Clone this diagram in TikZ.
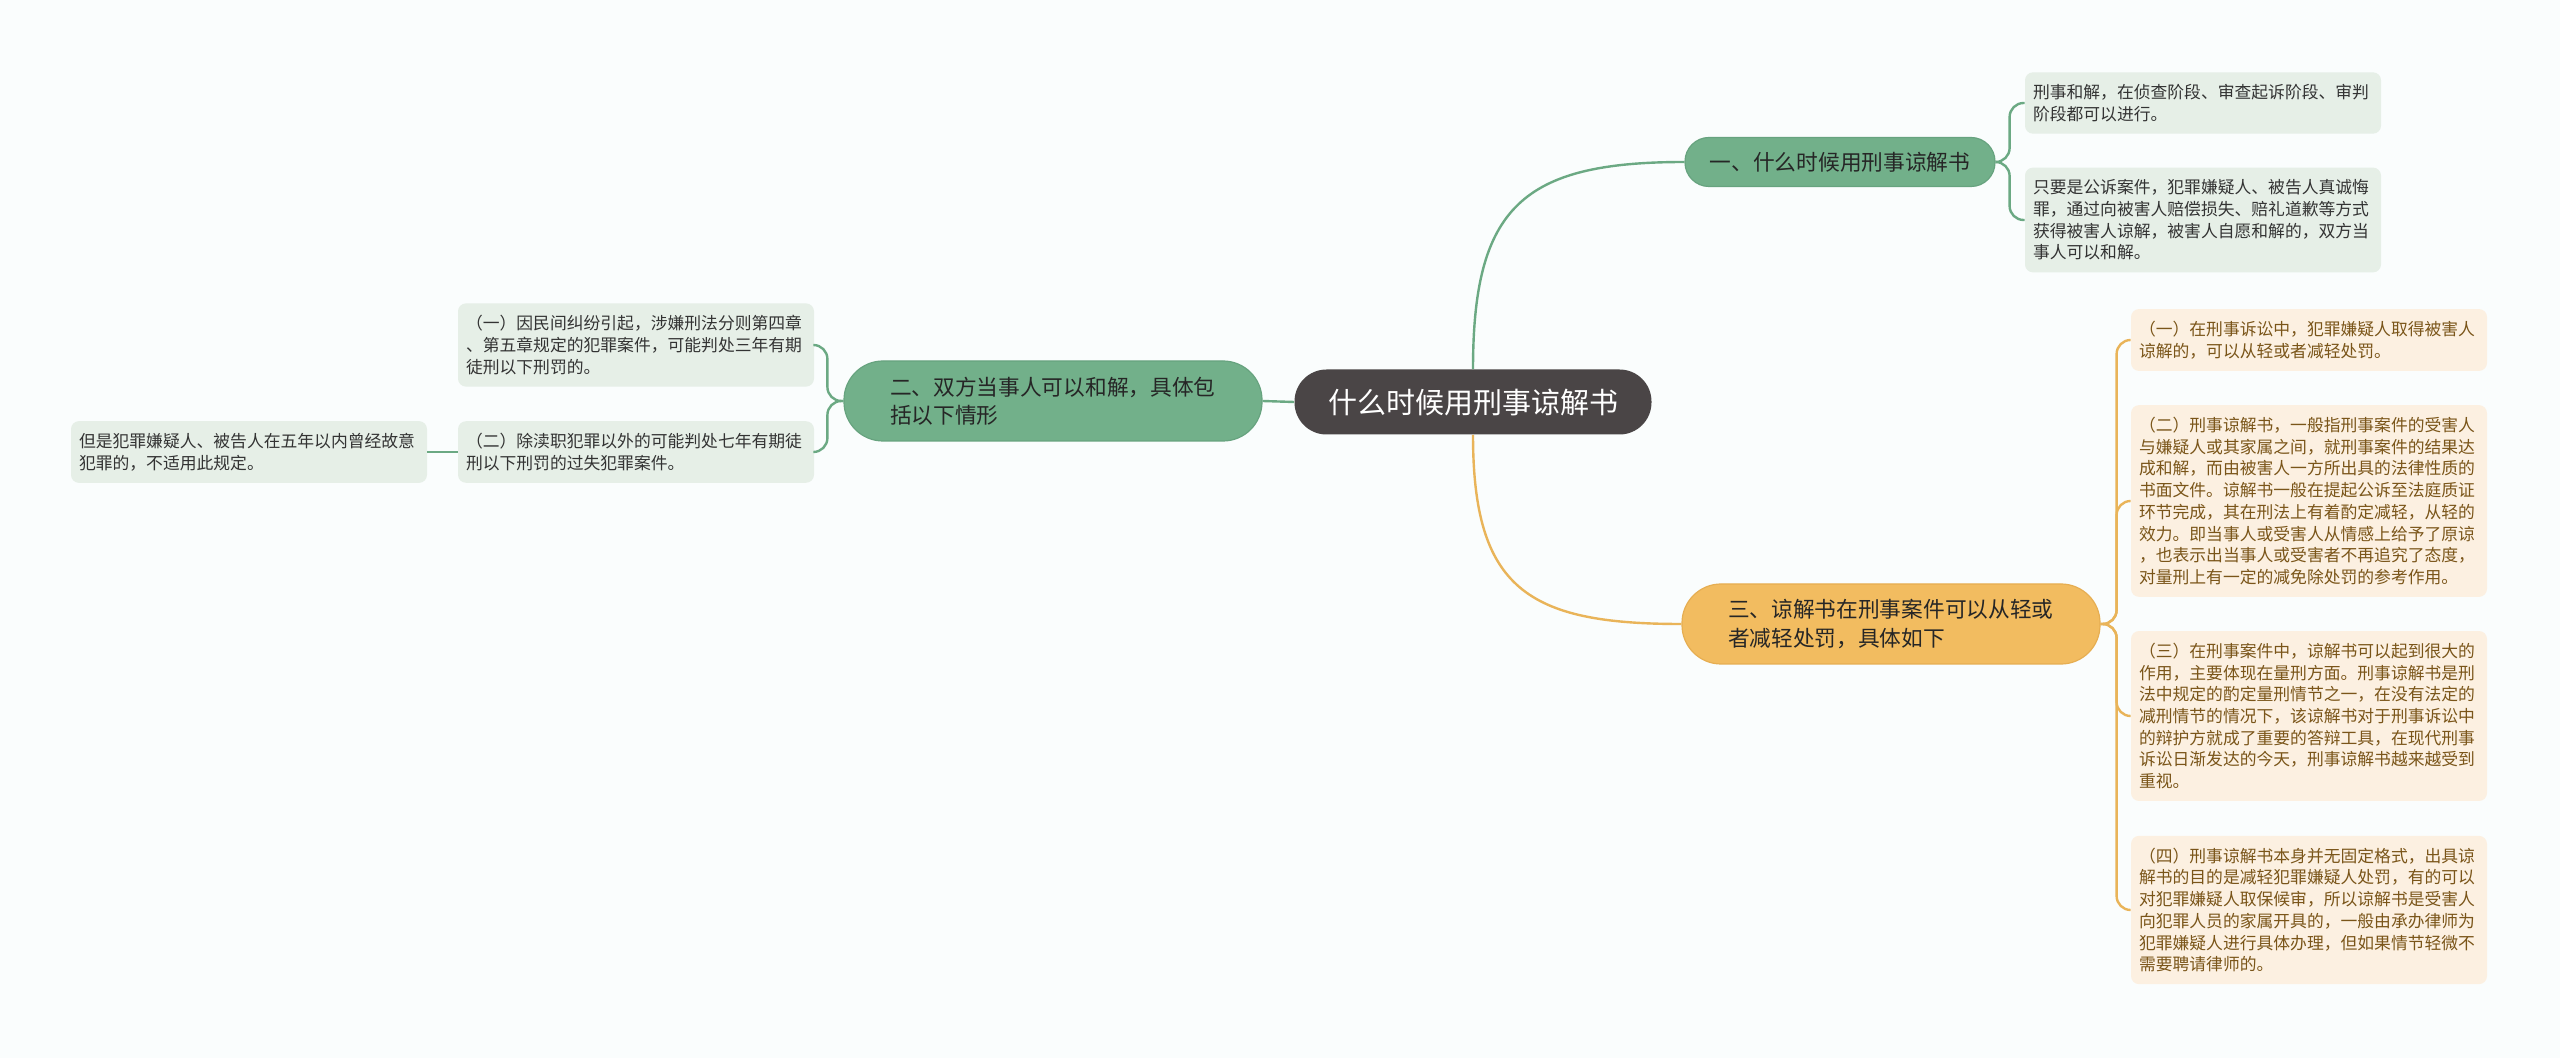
\documentclass[tikz,border=0pt]{standalone}
\usepackage{fontspec}
\setmainfont{Noto Sans CJK SC}

\definecolor{bgcol}{HTML}{FAFDFD}
\definecolor{rootfill}{HTML}{4A4546}
\definecolor{gfill}{HTML}{72B08A}
\definecolor{gdraw}{HTML}{67A37F}
\definecolor{gline}{HTML}{6BA983}
\definecolor{gleaffill}{HTML}{E6EFE7}
\definecolor{ofill}{HTML}{F2BC60}
\definecolor{odraw}{HTML}{E6AE52}
\definecolor{oline}{HTML}{E9B459}
\definecolor{oleaffill}{HTML}{FCF0E1}
\definecolor{otext}{HTML}{7A5519}

\begin{document}
\begin{tikzpicture}[x=0.5pt,y=0.5pt,
  root/.style={fill=rootfill, text=white, rounded corners=16pt, minimum width=178.5pt,
    minimum height=32.5pt, inner sep=0pt, font=\fontsize{14.5pt}{17pt}\selectfont},
  gbranch/.style={fill=gfill, draw=gdraw, line width=0.6pt, text=black!85},
  obranch/.style={fill=ofill, draw=odraw, line width=0.6pt, text=black!85},
  twoline/.style={rounded corners=19.5pt, minimum height=40pt, text width=163pt, inner xsep=23pt,
    inner ysep=0pt, align=left, font=\fontsize{10.85pt}{14.2pt}\selectfont},
  gleaf/.style={fill=gleaffill, text=black!80, rounded corners=4pt, text width=170pt, inner xsep=4pt,
    inner ysep=6pt, align=left, font=\fontsize{8.4pt}{10.85pt}\selectfont},
  oleaf/.style={gleaf, fill=oleaffill, text=otext},
  glink/.style={draw=gline, line width=1.2pt},
  olink/.style={draw=oline, line width=1.2pt}]

  % background
  \fill[bgcol] (0,0) rectangle (2560,-1058);

  % Root
  \node[root] (root) at (1473,-402) {什么时候用刑事谅解书};

  % Branches
  \node[gbranch, rounded corners=12pt, minimum width=155pt, minimum height=24.5pt, inner sep=0pt,
    font=\fontsize{10.85pt}{13pt}\selectfont] (when) at (1840,-162) {一、什么时候用刑事谅解书};
  \node[gbranch, twoline] (both) at (1053,-401) {二、双方当事人可以和解，具体包\\括以下情形};
  \node[obranch, twoline] (lighter) at (1891,-624) {三、谅解书在刑事案件可以从轻或\\者减轻处罚，具体如下};

  % Leaves of branch one
  \node[gleaf] (whenA) at (2203,-103) {刑事和解，在侦查阶段、审查起诉阶段、审判\\阶段都可以进行。};
  \node[gleaf] (whenB) at (2203,-220) {只要是公诉案件，犯罪嫌疑人、被告人真诚悔\\罪，通过向被害人赔偿损失、赔礼道歉等方式\\获得被害人谅解，被害人自愿和解的，双方当\\事人可以和解。};

  % Leaves of branch two
  \node[gleaf] (bothA) at (636,-345) {（一）因民间纠纷引起，涉嫌刑法分则第四章\\、第五章规定的犯罪案件，可能判处三年有期\\徒刑以下刑罚的。};
  \node[gleaf] (bothB) at (636,-452) {（二）除渎职犯罪以外的可能判处七年有期徒\\刑以下刑罚的过失犯罪案件。};
  \node[gleaf] (bothC) at (249,-452) {但是犯罪嫌疑人、被告人在五年以内曾经故意\\犯罪的，不适用此规定。};

  % Leaves of branch three
  \node[oleaf] (lighterA) at (2309,-340) {（一）在刑事诉讼中，犯罪嫌疑人取得被害人\\谅解的，可以从轻或者减轻处罚。};
  \node[oleaf] (lighterB) at (2309,-501) {（二）刑事谅解书，一般指刑事案件的受害人\\与嫌疑人或其家属之间，就刑事案件的结果达\\成和解，而由被害人一方所出具的法律性质的\\书面文件。谅解书一般在提起公诉至法庭质证\\环节完成，其在刑法上有着酌定减轻，从轻的\\效力。即当事人或受害人从情感上给予了原谅\\，也表示出当事人或受害者不再追究了态度，\\对量刑上有一定的减免除处罚的参考作用。};
  \node[oleaf] (lighterC) at (2309,-716) {（三）在刑事案件中，谅解书可以起到很大的\\作用，主要体现在量刑方面。刑事谅解书是刑\\法中规定的酌定量刑情节之一，在没有法定的\\减刑情节的情况下，该谅解书对于刑事诉讼中\\的辩护方就成了重要的答辩工具，在现代刑事\\诉讼日渐发达的今天，刑事谅解书越来越受到\\重视。};
  \node[oleaf] (lighterD) at (2309,-910) {（四）刑事谅解书本身并无固定格式，出具谅\\解书的目的是减轻犯罪嫌疑人处罚，有的可以\\对犯罪嫌疑人取保候审，所以谅解书是受害人\\向犯罪人员的家属开具的，一般由承办律师为\\犯罪嫌疑人进行具体办理，但如果情节轻微不\\需要聘请律师的。};

  % Root links
  \draw[glink] (root.north) to[out=90, in=180, looseness=1.4] (when.west);
  \draw[olink] (root.south) to[out=-90, in=180, looseness=1.4] (lighter.west);
  \draw[glink] (root.west) -- (both.east);

  % Leaf links
  \foreach \leaf in {whenA, whenB}
    \draw[glink, rounded corners=7pt] (when.east) -- ++(14,0) |- (\leaf.west);
  \foreach \leaf in {lighterA, lighterB, lighterC, lighterD}
    \draw[olink, rounded corners=7pt] (lighter.east) -- ++(16,0) |- (\leaf.west);
  \foreach \leaf in {bothA, bothB}
    \draw[glink, rounded corners=7pt] (both.west) -- ++(-16,0) |- (\leaf.east);
  \draw[glink] (bothB.west) -- (bothC.east);

\end{tikzpicture}
\end{document}
